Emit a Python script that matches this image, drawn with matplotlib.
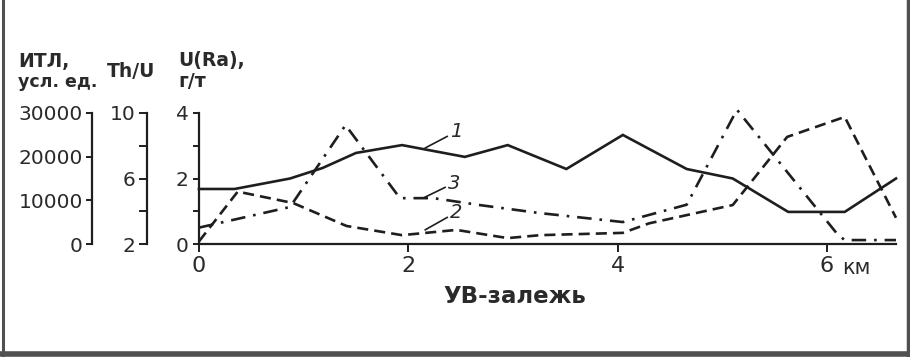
import matplotlib
matplotlib.use("Agg")
import matplotlib.pyplot as plt
from matplotlib.lines import Line2D

plt.rcParams['font.family'] = ['DejaVu Sans']

# ---- data (distance, km; values in U(Ra) axis scale) ----
x1 = [0, 0.34, 0.87, 1.18, 1.5, 1.94, 2.54, 2.95, 3.51, 4.05, 4.66, 5.1, 5.63, 6.17, 6.66]
y1 = [1.68, 1.68, 2.0, 2.32, 2.78, 3.02, 2.66, 3.02, 2.29, 3.33, 2.29, 2.0, 0.98, 0.98, 2.0]

x2 = [0, 0.37, 0.9, 1.41, 1.94, 2.46, 2.95, 3.26, 4.05, 4.3, 5.1, 5.62, 6.17, 6.66]
y2 = [0.08, 1.6, 1.25, 0.55, 0.27, 0.43, 0.18, 0.27, 0.34, 0.63, 1.19, 3.27, 3.88, 0.8]

x3 = [0, 0.87, 1.4, 1.92, 2.24, 2.68, 3.24, 4.05, 4.66, 5.14, 6.1, 6.17, 6.66]
y3 = [0.5, 1.13, 3.63, 1.4, 1.4, 1.19, 0.95, 0.67, 1.2, 4.1, 0.3, 0.12, 0.12]

xticks = [0, 2, 4, 6]
xticklabels = ['0', '2', '4', '6']
u_ticks = [0, 1, 2, 3, 4]
u_labels = ['0', '', '2', '', '4']
thu_ticks = [2, 4, 6, 8, 10]
thu_labels = ['2', '', '6', '', '10']
itl_ticks = [0, 10000, 20000, 30000]
itl_labels = ['0', '10000', '20000', '30000']

W, H = 910, 357
fig = plt.figure(figsize=(W / 100, H / 100), dpi=100)
fig.patch.set_facecolor('white')

def fx(px):
    return px / W

def fy(py):
    return 1 - py / H

INK = '#1e1e1e'
TXT = '#2a2a2a'

left, right, top, bot = 199, 896, 113, 244
ax = fig.add_axes([fx(left), fy(bot), (right - left) / W, (bot - top) / H])
ax.set_xlim(0, 6.66)
ax.set_ylim(0, 4)
for s in ['top', 'right']:
    ax.spines[s].set_visible(False)
for s in ['left', 'bottom']:
    ax.spines[s].set_linewidth(1.6)
    ax.spines[s].set_color(INK)
ax.set_facecolor('none')

ax.set_xticks(xticks)
ax.set_xticklabels(xticklabels)
ax.set_yticks(u_ticks)
ax.set_yticklabels(u_labels)
ax.tick_params(axis='x', direction='out', length=6, width=1.4, color=INK,
               labelsize=16, labelcolor=TXT, pad=3)
ax.tick_params(axis='y', direction='out', length=4, width=1.4, color=INK,
               labelsize=14.5, labelcolor=TXT, pad=3.5)

lw = 1.9
ax.plot(x1, y1, color=INK, lw=lw, solid_joinstyle='miter', clip_on=False)
ax.plot(x2, y2, color=INK, lw=lw, linestyle=(0, (4.2, 2.3)), clip_on=False)
ax.plot(x3, y3, color=INK, lw=lw, linestyle=(0, (5.5, 3, 1, 3)), clip_on=False)

# curve numbers with leader lines
def label(num, xy, xytext):
    ax.annotate(num, xy=xy, xytext=xytext, textcoords='data',
                fontsize=14, style='italic', color=TXT, ha='left', va='center',
                arrowprops=dict(arrowstyle='-', color=INK, lw=1.2,
                                shrinkA=0, shrinkB=0, relpos=(0, 0.35)),
                annotation_clip=False)

label('1', (2.16, 2.93), (2.40, 3.42))
label('3', (2.14, 1.40), (2.38, 1.86))
label('2', (2.16, 0.43), (2.40, 0.95))

# extra scales
def side_axis(px, lo, hi, ticks, labels, length, pad):
    a = fig.add_axes([fx(px), fy(bot), 0.0005, (bot - top) / H])
    a.set_facecolor('none')
    for s in ['top', 'right', 'bottom']:
        a.spines[s].set_visible(False)
    a.spines['left'].set_linewidth(1.6)
    a.spines['left'].set_color(INK)
    a.set_xticks([])
    a.set_ylim(lo, hi)
    a.set_yticks(ticks)
    a.set_yticklabels(labels)
    a.tick_params(axis='y', direction='out', length=length, width=1.4,
                  color=INK, labelsize=14.5, labelcolor=TXT, pad=pad)
    return a

side_axis(92, 0, 30000, itl_ticks, itl_labels, 4.5, 2)
side_axis(147, 2, 10, thu_ticks, thu_labels, 6, 2.5)

# headers
hdr = dict(fontsize=13.5, fontweight='bold', color=TXT, va='baseline', ha='left')
fig.text(fx(18), fy(67), 'ИТЛ,', **hdr)
fig.text(fx(18), fy(87), 'усл. ед.', **dict(hdr, fontsize=12.5))
fig.text(fx(107), fy(77), 'Th/U', **hdr)
fig.text(fx(178), fy(66), 'U(Ra),', **hdr)
fig.text(fx(178), fy(87), 'г/т', **hdr)

fig.text(fx(842), fy(273.5), 'км', fontsize=15, color=TXT, ha='left', va='baseline')

fig.text(fx(515), fy(303), 'УВ-залежь', fontsize=16.5, fontweight='bold',
         color=TXT, ha='center', va='baseline')

# outer frame (left, right, bottom)
fc = '#505050'
fig.add_artist(Line2D([fx(3), fx(3)], [0, 1], color=fc, lw=2.2, transform=fig.transFigure))
fig.add_artist(Line2D([fx(907.5), fx(907.5)], [0, 1], color=fc, lw=2.5, transform=fig.transFigure))
fig.add_artist(Line2D([0, 1], [fy(353.5), fy(353.5)], color=fc, lw=4, transform=fig.transFigure))

fig.savefig('out.png', dpi=100, facecolor='white')
